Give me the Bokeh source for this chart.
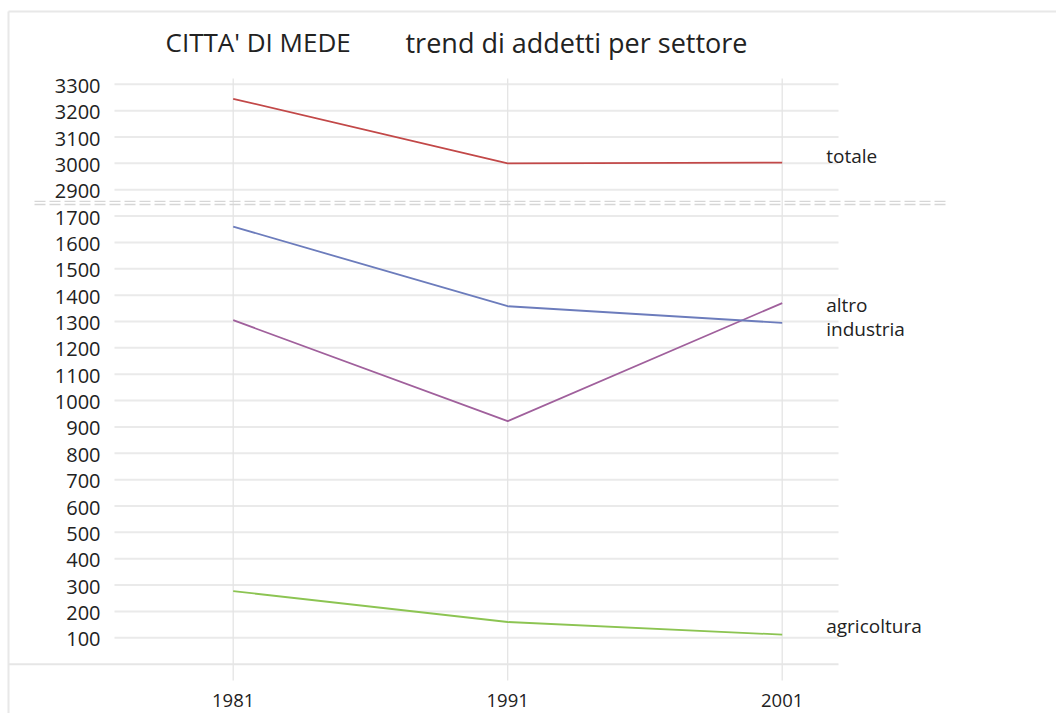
from bokeh.plotting import figure
from bokeh.models import Range1d
from bokeh.core.properties import value
from bokeh.embed import file_html
from bokeh.resources import INLINE

# ---------------- data ----------------
years = [1981, 1991, 2001]
totale = [3245, 3000, 3003]
industria = [1660, 1358, 1295]
altro = [1305, 922, 1370]
agricoltura = [277, 160, 112]

lower_ticks = [100, 200, 300, 400, 500, 600, 700, 800, 900, 1000,
               1100, 1200, 1300, 1400, 1500, 1600, 1700]
upper_ticks = [2900, 3000, 3100, 3200, 3300]

series_names = ["totale", "altro", "industria", "agricoltura"]

title_left = "CITTA' DI MEDE"
title_right = "trend di addetti per settore"

# broken axis: values >= 2900 are shifted down so 2900 sits one step above 1700
BREAK_SHIFT = upper_ticks[0] - (lower_ticks[-1] + 100)   # 1100
BREAK_AT = lower_ticks[-1] + 50                          # 1750 (drawn position)


def tr(v):
    return v - BREAK_SHIFT if v > BREAK_AT else v


# ---------------- layout (pixel anchors) ----------------
W, H = 1056, 713
PX_YEAR0, PX_PER_YEAR = 232.7, 27.45          # x pixel of first year, px per year
PY_VAL0, PX_PER_UNIT = 637.3, 0.26357         # y pixel of first tick, px per unit


def X(px):
    return years[0] + (px - PX_YEAR0) / PX_PER_YEAR


def Y(py):
    return lower_ticks[0] + (PY_VAL0 - py) / PX_PER_UNIT


p = figure(width=W, height=H, output_backend="svg", toolbar_location=None,
           x_range=Range1d(X(0), X(W)), y_range=Range1d(Y(H), Y(0)),
           x_axis_type=None, y_axis_type=None,
           min_border=0, min_border_left=0, min_border_right=0,
           min_border_top=0, min_border_bottom=0)
p.outline_line_color = None
p.background_fill_color = "white"
p.border_fill_color = "white"

FONT = "Open Sans"
TXT = "#222222"

GRID_L, GRID_R, VGRID_T, VGRID_B = 114, 838, 78, 680

# outer frame box (top & left edges)
p.segment(x0=[X(8), X(8)], y0=[Y(11), Y(11)], x1=[X(W), X(8)], y1=[Y(11), Y(H)],
          line_color="#e8e8e8", line_width=2)

# horizontal grid lines
all_ticks = lower_ticks + upper_ticks
gy = [tr(v) for v in all_ticks]
p.segment(x0=[X(GRID_L)] * len(gy), y0=gy, x1=[X(GRID_R)] * len(gy), y1=gy,
          line_color="#eaeaea", line_width=2)

# vertical grid lines
p.segment(x0=years, y0=[Y(VGRID_T)] * len(years), x1=years, y1=[Y(VGRID_B)] * len(years),
          line_color="#e4e4e4", line_width=1.3)

# baseline at zero
p.segment(x0=[X(8)], y0=[0], x1=[X(GRID_R)], y1=[0], line_color="#e6e6e6", line_width=2)

# axis break marker (double dashed line)
for dpx in (-1.6, 1.6):
    yb = BREAK_AT + dpx / PX_PER_UNIT
    p.segment(x0=[X(34)], y0=[yb], x1=[X(949)], y1=[yb],
              line_color="#d6d6d6", line_width=1.3, line_dash="11 4")

# (text y values below are the visual centre of the text)
# y tick labels
p.text(x=[X(100)] * len(all_ticks), y=[v - 1.5 / PX_PER_UNIT for v in gy],
       text=[str(v) for v in all_ticks], text_font=value(FONT),
       text_font_size=value("20px"), text_color=TXT,
       text_align="right", text_baseline="alphabetic")

# x tick labels
p.text(x=years, y=[Y(699.5)] * len(years), text=[str(v) for v in years],
       text_font=value(FONT), text_font_size=value("18.5px"), text_color=TXT,
       text_align="center", text_baseline="alphabetic")

# series
colors = {"totale": "#c24848", "altro": "#a0609c",
          "industria": "#6c7cbc", "agricoltura": "#8cc452"}
values = {"totale": totale, "altro": altro,
          "industria": industria, "agricoltura": agricoltura}
label_dpx = {"totale": -6.5, "altro": 1.5, "industria": 5.7, "agricoltura": -9}

for name in series_names:
    ys = [tr(v) for v in values[name]]
    p.line(years, ys, line_color=colors[name], line_width=1.8)
    p.text(x=[years[-1] + 44 / PX_PER_YEAR], y=[ys[-1] - label_dpx[name] / PX_PER_UNIT],
           text=[name], text_font=value(FONT), text_font_size=value("19px"),
           text_color=TXT, text_align="left", text_baseline="alphabetic")

# title
p.text(x=[X(165)], y=[Y(41.5)], text=[title_left], text_font=value(FONT),
       text_font_size=value("26px"), text_color=TXT, text_baseline="alphabetic")
p.text(x=[X(405)], y=[Y(41.5)], text=[title_right], text_font=value(FONT),
       text_font_size=value("27px"), text_color=TXT, text_baseline="alphabetic")

open("out.html", "w").write(file_html(p, INLINE))
